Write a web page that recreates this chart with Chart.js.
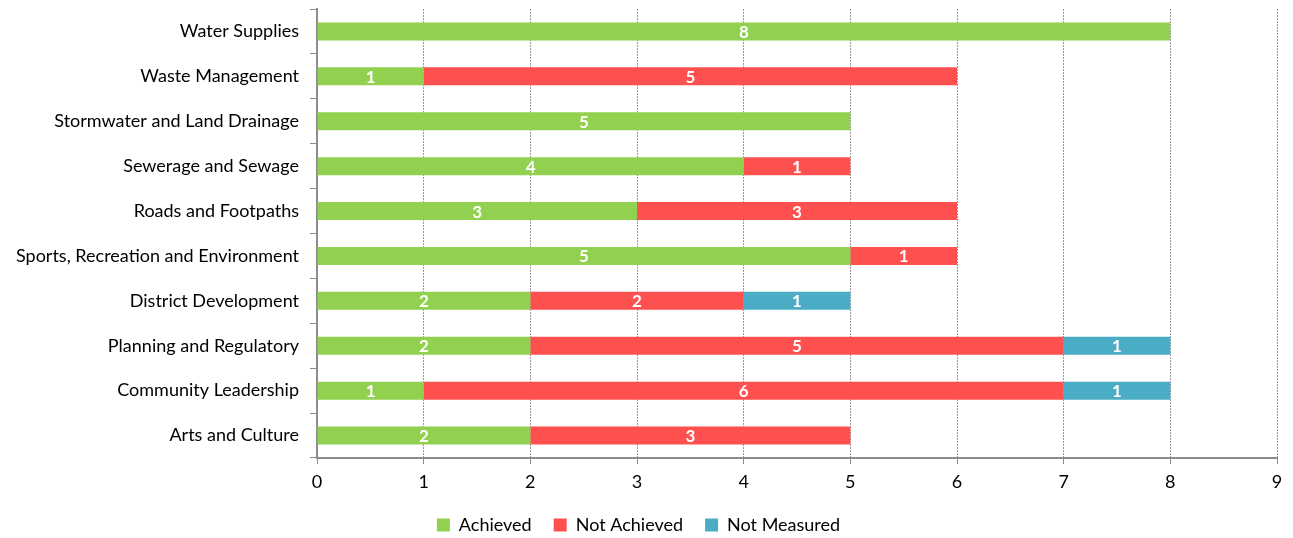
<!DOCTYPE html>
<html>
<head>
<meta charset="utf-8">
<script src="https://cdn.jsdelivr.net/npm/chart.js@4/dist/chart.umd.min.js"></script>
<style>
  html, body { margin: 0; padding: 0; background: #ffffff; }
  #wrap { width: 1293px; height: 538px; }
</style>
</head>
<body>
<div id="wrap"><canvas id="c" width="1293" height="538"></canvas></div>
<script>
// Service areas and the count of performance measures in each status
const categories = [
  'Water Supplies',
  'Waste Management',
  'Stormwater and Land Drainage',
  'Sewerage and Sewage',
  'Roads and Footpaths',
  'Sports, Recreation and Environment',
  'District Development',
  'Planning and Regulatory',
  'Community Leadership',
  'Arts and Culture'
];
const achieved    = [8, 1, 5, 4, 3, 5, 2, 2, 1, 2];
const notAchieved = [null, 5, null, 1, 3, 1, 2, 5, 6, 3];
const notMeasured = [null, null, null, null, null, null, 1, 1, 1, null];
const xTicks = [0, 1, 2, 3, 4, 5, 6, 7, 8, 9];

const FONT = 'Lato, "Liberation Sans", sans-serif';

// Writes each segment's value in white at the centre of its bar
const segmentLabels = {
  id: 'segmentLabels',
  afterDatasetsDraw(chart) {
    const ctx = chart.ctx;
    ctx.save();
    ctx.fillStyle = '#ffffff';
    ctx.font = 'bold 17px ' + FONT;
    ctx.textAlign = 'center';
    ctx.textBaseline = 'middle';
    chart.data.datasets.forEach((ds, i) => {
      const meta = chart.getDatasetMeta(i);
      meta.data.forEach((bar, j) => {
        const v = ds.data[j];
        if (v == null || v === 0) return;
        const cx = (bar.x + bar.base) / 2;
        ctx.fillText(String(v), cx, bar.y + 1);
      });
    });
    ctx.restore();
  }
};

new Chart(document.getElementById('c'), {
  type: 'bar',
  data: {
    labels: categories,
    datasets: [
      { label: 'Achieved', data: achieved, backgroundColor: '#92D050' },
      { label: 'Not Achieved', data: notAchieved, backgroundColor: '#FF5050' },
      { label: 'Not Measured', data: notMeasured, backgroundColor: '#4BACC6' }
    ]
  },
  options: {
    indexAxis: 'y',
    responsive: false,
    animation: false,
    devicePixelRatio: 1,
    layout: { padding: { top: 9, right: 16, left: 0, bottom: -6 } },
    datasets: {
      bar: { barPercentage: 0.4, categoryPercentage: 1.0 }
    },
    scales: {
      x: {
        stacked: true,
        min: 0,
        max: 9,
        afterBuildTicks(scale) { scale.ticks = xTicks.map(v => ({ value: v })); },
        ticks: {
          color: '#000000',
          font: { family: FONT, size: 18 },
          padding: 7
        },
        grid: {
          color: '#9a9a9a',
          lineWidth: 1,
          tickLength: 6,
          tickColor: '#8c8c8c',
          drawOnChartArea: true
        },
        border: { display: true, color: '#8c8c8c', width: 2, dash: [2, 1] },
        afterFit(scale) { scale.height = 36; }
      },
      y: {
        stacked: true,
        ticks: {
          color: '#000000',
          font: { family: FONT, size: 18 },
          padding: 11
        },
        grid: {
          offset: true,
          drawOnChartArea: false,
          tickLength: 7,
          color: '#8c8c8c'
        },
        border: { display: true, color: '#8c8c8c', width: 2 },
        afterFit(scale) {
          scale.width = 317;
          scale.paddingTop = 0;
          scale.paddingBottom = 0;
        }
      }
    },
    plugins: {
      legend: {
        position: 'bottom',
        labels: {
          boxWidth: 13,
          boxHeight: 13,
          padding: 22,
          color: '#000000',
          font: { family: FONT, size: 18 }
        }
      },
      tooltip: { enabled: false }
    }
  },
  plugins: [segmentLabels]
});
</script>
</body>
</html>
